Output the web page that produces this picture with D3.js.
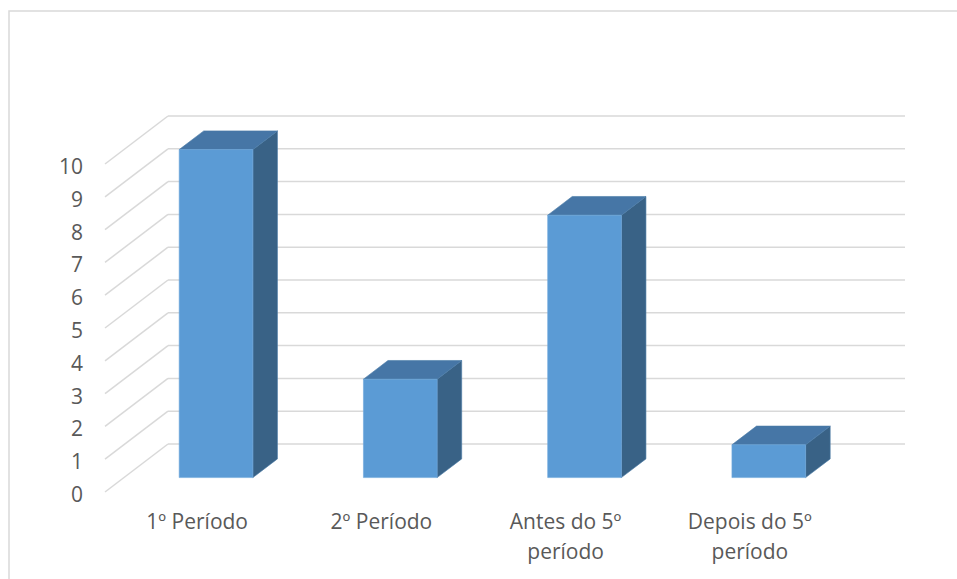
<!DOCTYPE html>
<html>
<head>
<meta charset="utf-8">
<script src="https://cdn.jsdelivr.net/npm/d3@7"></script>
<style>
  html, body { margin: 0; padding: 0; background: #ffffff; }
  svg { display: block; }
  text { font-family: "Open Sans", "Noto Sans", sans-serif; fill: #595959; }
</style>
</head>
<body>
<svg id="chart" width="957" height="579"></svg>
<script>
// Chart data
const categories = [["1º Período"], ["2º Período"], ["Antes do 5º", "período"], ["Depois do 5º", "período"]];
const values = [10, 3, 8, 1];
const yTicks = [0, 1, 2, 3, 4, 5, 6, 7, 8, 9, 10];

const svg = d3.select("#chart");
const W = 957, H = 579;

// Outer chart frame (runs off the right and bottom edges)
svg.append("rect")
  .attr("x", 9).attr("y", 11)
  .attr("width", W + 20).attr("height", H + 20)
  .attr("fill", "none").attr("stroke", "#d9d9d9").attr("stroke-width", 1.5);

// Oblique projection: the floor runs back by (depthX, depthY) over full depth
const depthX = 63, depthY = -48;
const floorLeft = 105, floorRight = 842;

const x = d3.scaleBand().domain(d3.range(categories.length)).range([floorLeft, floorRight]);
const y = d3.scaleLinear().domain([0, 10]).range([492, 164]);

// point at category-axis x, value v, depth fraction t (0 = front, 1 = back)
const P = (px, v, t) => [px + depthX * t, y(v) + depthY * t];

const grid = svg.append("g").attr("stroke", "#d9d9d9").attr("stroke-width", 1.5).attr("fill", "none");
// side-wall diagonals
grid.selectAll("line.side").data(yTicks).join("line")
  .attr("class", "side")
  .attr("x1", d => P(floorLeft, d, 0)[0]).attr("y1", d => P(floorLeft, d, 0)[1])
  .attr("x2", d => P(floorLeft, d, 1)[0]).attr("y2", d => P(floorLeft, d, 1)[1]);
// back-wall gridlines
grid.selectAll("line.back").data(yTicks).join("line")
  .attr("class", "back")
  .attr("x1", d => P(floorLeft, d, 1)[0]).attr("y1", d => P(floorLeft, d, 1)[1])
  .attr("x2", d => P(floorRight, d, 1)[0]).attr("y2", d => P(floorRight, d, 1)[1]);

// value axis labels
svg.append("g").selectAll("text").data(yTicks).join("text")
  .attr("x", 83).attr("y", d => y(d) + 2)
  .attr("text-anchor", "end").attr("dominant-baseline", "central")
  .style("font-size", "21px")
  .text(d => d);

// 3D bars
const barFrac = 0.4;          // bar width as share of the category band
const t0 = 0.3, t1 = 0.69;    // bar front / back depth
const bars = svg.append("g");
values.forEach((v, i) => {
  const bw = x.bandwidth() * barFrac;
  const xl = x(i) + (x.bandwidth() - bw) / 2, xr = xl + bw;
  const poly = pts => pts.map(p => p.join(",")).join(" ");
  const g = bars.append("g");
  // right side
  g.append("polygon")
    .attr("points", poly([P(xr, 0, t0), P(xr, v, t0), P(xr, v, t1), P(xr, 0, t1)]))
    .attr("fill", "#396286").attr("stroke", "#4a7aa6").attr("stroke-width", 0.6);
  // top
  g.append("polygon")
    .attr("points", poly([P(xl, v, t0), P(xr, v, t0), P(xr, v, t1), P(xl, v, t1)]))
    .attr("fill", "#4676a6").attr("stroke", "#4a7aa6").attr("stroke-width", 0.6);
  // front
  g.append("polygon")
    .attr("points", poly([P(xl, 0, t0), P(xr, 0, t0), P(xr, v, t0), P(xl, v, t0)]))
    .attr("fill", "#5b9bd5").attr("stroke", "#6fa8dc").attr("stroke-width", 0.6);
});

// category labels
const cat = svg.append("g").selectAll("text").data(categories).join("text")
  .attr("text-anchor", "middle")
  .style("font-size", "21px")
  .attr("transform", (d, i) => `translate(${x(i) + x.bandwidth() / 2},0)`);
cat.selectAll("tspan").data(d => d).join("tspan")
  .attr("x", 0)
  .attr("y", (d, j) => 529 + j * 30)
  .text(d => d);
</script>
</body>
</html>
